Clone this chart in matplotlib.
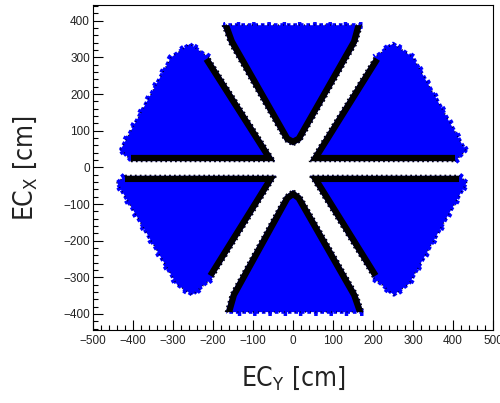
import matplotlib
matplotlib.use("Agg")
import matplotlib.pyplot as plt
from matplotlib import font_manager
from matplotlib.patches import Polygon
import numpy as np

# sector outlines (cm)
# *_in  : edge along the dead gaps (dark band)
# *_out : rim of the sector, from the last inner point back to the first
top_in_x  = [-176, -160, -20, 0, 20, 160, 172]
top_in_y  = [388, 340, 72, 60, 72, 340, 388]
top_out_x = [172, -176]
top_out_y = [388, 388]

ur_in_x  = [204, 42, 405]
ur_in_y  = [300, 17, 17]
ur_out_x = [405, 432, 300, 250, 204]
ur_out_y = [17, 45, 300, 338, 300]

ul_in_x  = [-405, -45, -210]
ul_in_y  = [17, 17, 300]
ul_out_x = [-210, -258, -305, -430, -405]
ul_out_y = [300, 337, 300, 50, 17]

ll_in_x  = [-200, -42, -420]
ll_in_y  = [-300, -23, -23]
ll_out_x = [-420, -440, -290, -252, -200]
ll_out_y = [-23, -42, -320, -348, -300]

lr_in_x  = [200, 42, 415]
lr_in_y  = [-300, -23, -23]
lr_out_x = [415, 435, 290, 252, 200]
lr_out_y = [-23, -40, -318, -348, -300]

bot_in_x  = [-168, -155, -20, 0, 20, 160, 176]
bot_in_y  = [-395, -345, -78, -62, -78, -345, -395]
bot_out_x = [176, -168]
bot_out_y = [-395, -395]

x_ticks = np.arange(-500, 501, 100)
y_ticks = np.arange(-400, 401, 100)

sectors = [
    (top_in_x, top_in_y, top_out_x, top_out_y),
    (ur_in_x, ur_in_y, ur_out_x, ur_out_y),
    (ul_in_x, ul_in_y, ul_out_x, ul_out_y),
    (ll_in_x, ll_in_y, ll_out_x, ll_out_y),
    (lr_in_x, lr_in_y, lr_out_x, lr_out_y),
    (bot_in_x, bot_in_y, bot_out_x, bot_out_y),
]

# ROOT axis titles are in a narrow helvetica; use whatever narrow face is here
fonts = font_manager.fontManager.ttflist
if any(f.name == 'Liberation Sans Narrow' for f in fonts):
    title_font = dict(family='Liberation Sans Narrow')
    math_rm = 'Liberation Sans Narrow'
    title_size = 21
elif any(f.name == 'DejaVu Sans' and f.stretch == 'condensed' for f in fonts):
    title_font = dict(family='DejaVu Sans', stretch='condensed')
    math_rm = 'DejaVu Sans:stretch=condensed'
    title_size = 19
else:
    title_font = dict(family='Liberation Sans')
    math_rm = 'Liberation Sans'
    title_size = 18

plt.rcParams['font.family'] = ['Liberation Sans', 'DejaVu Sans']
plt.rcParams['mathtext.fontset'] = 'custom'
plt.rcParams['mathtext.rm'] = math_rm

fig = plt.figure(figsize=(5.0, 4.03), dpi=100)
ax = fig.add_axes([0.186, 0.181, 0.80, 0.8065])

for in_x, in_y, out_x, out_y in sectors:
    xs = list(in_x) + list(out_x[1:-1])
    ys = list(in_y) + list(out_y[1:-1])
    poly = Polygon(np.column_stack([xs, ys]), closed=True,
                   facecolor='#0000ff', edgecolor='none', zorder=2)
    ax.add_patch(poly)

    # dark band along the gaps, only the half inside the sector
    band, = ax.plot(in_x, in_y, color='black', lw=9,
                    solid_joinstyle='round', solid_capstyle='butt', zorder=3)
    band.set_clip_path(poly)
    # ragged outer side of the band
    ax.plot(in_x, in_y, color='black', lw=1.6, ls=(0, (0.8, 1.4)), zorder=1.5)

    # ragged rim
    ax.plot(out_x, out_y, color='#0000ff', lw=5, ls=(0, (0.5, 1.7)), zorder=1.5)
    ax.plot(out_x, out_y, color='#0000ff', lw=2.6, ls=(0, (1.0, 0.8)), zorder=1.6)
    ax.plot(out_x, out_y, color='black', lw=1.1, ls=(0, (0.5, 2.9)), zorder=2.5)

ax.set_xlim(-500, 500)
ax.set_ylim(-444, 443)

ax.set_xticks(x_ticks)
ax.set_yticks(y_ticks)
ax.set_xticks(np.arange(-500, 501, 20), minor=True)
ax.set_yticks(np.arange(-440, 441, 20), minor=True)
ax.tick_params(which='both', direction='in', top=False, right=False,
               width=0.8, colors='black', labelcolor='#222222', labelsize=8.5)
ax.tick_params(which='major', length=7.2)
ax.tick_params(which='minor', length=3.6)
ax.tick_params(axis='x', pad=3.5)
ax.tick_params(axis='y', pad=2.2)
ax.set_xticklabels([str(t).replace('-', '\u2212') for t in x_ticks])
ax.set_yticklabels([str(t).replace('-', '\u2212') for t in y_ticks])

for sp in ax.spines.values():
    sp.set_linewidth(0.8)

ax.set_xlabel(r'EC$_{\mathrm{Y}}$ [cm]', fontsize=title_size, color='#222222', **title_font)
ax.set_ylabel(r'EC$_{\mathrm{X}}$ [cm]', fontsize=title_size, color='#222222', **title_font)
ax.xaxis.set_label_coords(0.5, -0.105)
ax.yaxis.set_label_coords(-0.135, 0.5)

fig.savefig('out.png', dpi=100)
